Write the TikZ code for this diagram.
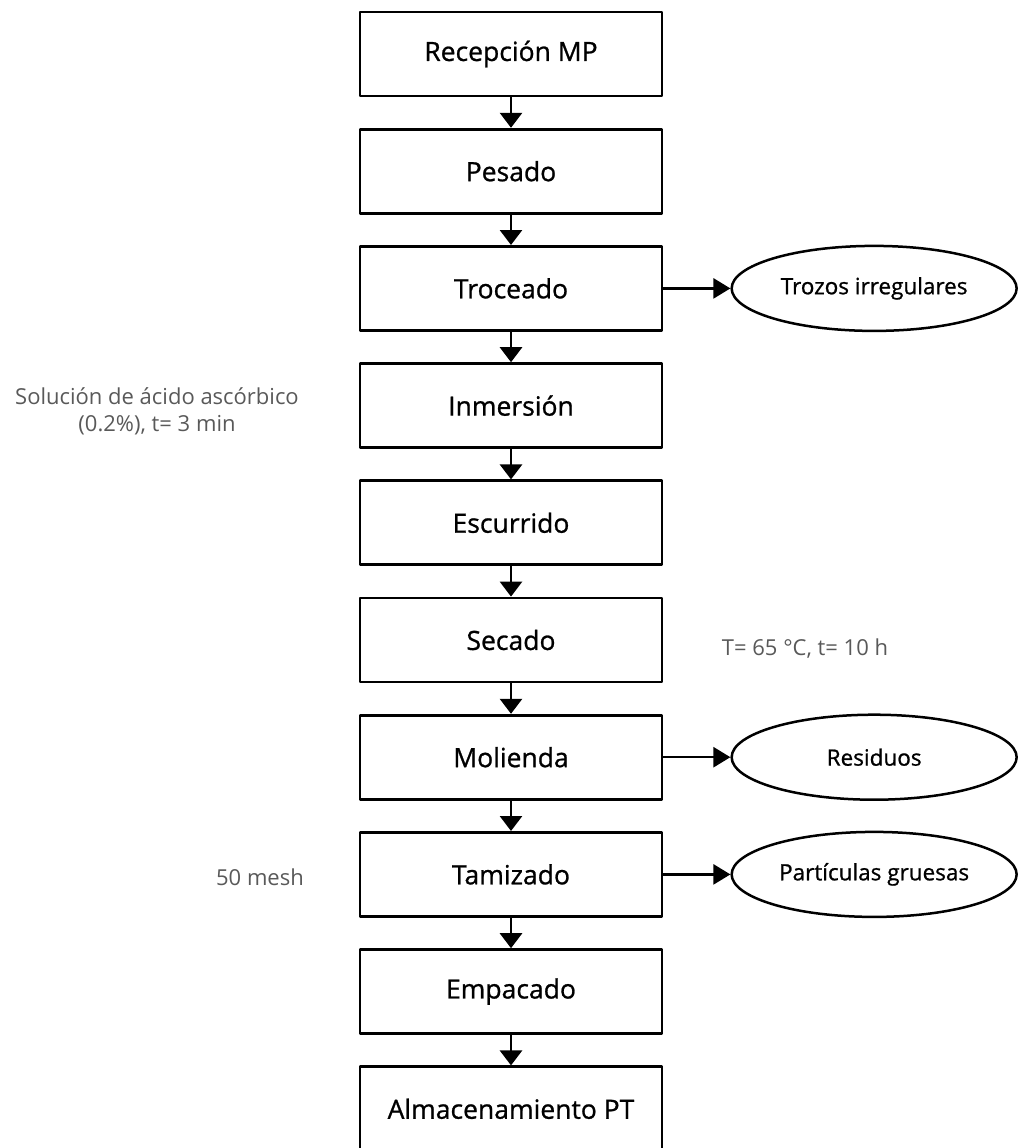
\documentclass[tikz,border=0pt]{standalone}
\usepackage{fontspec}
\setmainfont{Open Sans}
\newfontfamily\gruesa{Open Sans}[FakeBold=0.9]
\usetikzlibrary{positioning,shapes.geometric,arrows.meta}
\begin{document}
\begin{tikzpicture}[x=1pt,y=-1pt,>={Triangle[length=15pt,width=22pt]}, line join=round, line cap=round,
  caja/.style={draw,line width=2.8pt,minimum width=302pt,minimum height=84pt,inner sep=0pt,font=\gruesa\fontsize{26.5}{30}\selectfont},
  salida/.style={draw,ellipse,line width=2.5pt,minimum width=285pt,minimum height=85pt,inner sep=0pt,font=\gruesa\fontsize{22.5}{25}\selectfont},
  nota/.style={text=black!65,align=center,font=\fontsize{22}{27}\selectfont},
  flujo/.style={->,line width=2.8pt},
  node distance=67pt]
\def\xc{511} \def\dy{117.2} % centro y paso
\useasboundingbox (0,0) rectangle (1018,1148);
% etapas del proceso
\foreach \i/\n/\t in {0/rec/Recepción MP,1/pes/Pesado,2/troc/Troceado,3/inm/Inmersión,4/esc/Escurrido,
  5/sec/Secado,6/mol/Molienda,7/tam/Tamizado,8/emp/Empacado,9/alm/Almacenamiento PT}
  \node[caja] (\n) at (\xc,{54+\dy*\i}) {\t};
\foreach \a/\b in {rec/pes,pes/troc,troc/inm,inm/esc,esc/sec,sec/mol,mol/tam,tam/emp,emp/alm}
  \draw[flujo] (\a) -- (\b);
% salidas
\node[salida,right=of troc] (troz) {Trozos irregulares};
\node[salida,right=of mol] (resid) {Residuos};
\node[salida,right=of tam] (part) {Partículas gruesas};
\foreach \a/\b in {troc/troz,mol/resid,tam/part}
  \draw[flujo,line width=2.5pt,>={Triangle[length=17pt,width=20pt]}] (\a) -- (\b);
% condiciones
\node[nota] (cinm) at (157,411) {Solución de ácido ascórbico\\(0.2\%), t= 3 min};
\node[nota] (csec) at (805,649) {T= 65 °C, t= 10 h};
\node[nota] (ctam) at (260,877) {50 mesh};
\end{tikzpicture}
\end{document}
